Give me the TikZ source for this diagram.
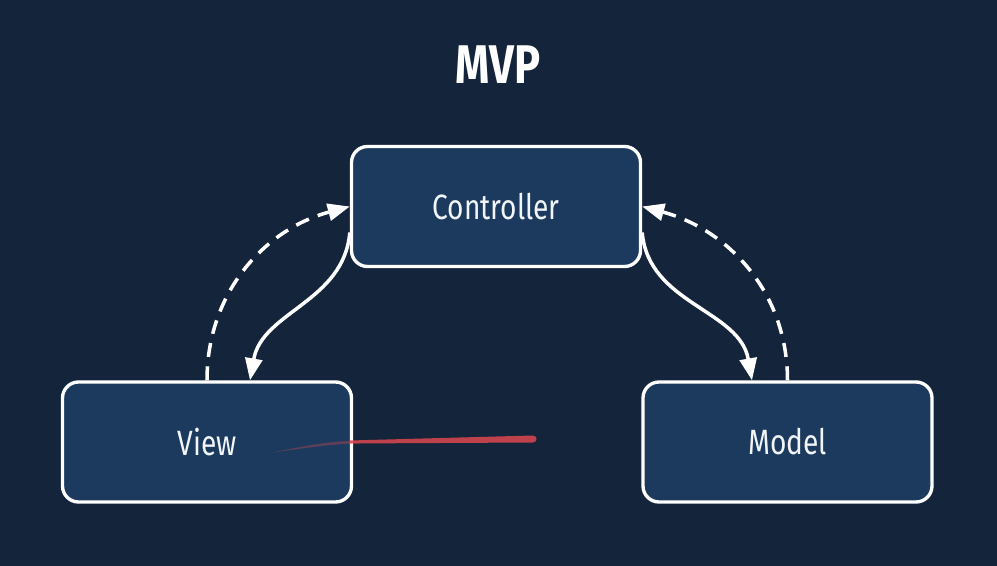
\documentclass[tikz,border=0pt]{standalone}
\usepackage{fontspec}
\newfontfamily\boxfont[FakeStretch=0.8]{Fira Sans}
\usetikzlibrary{arrows.meta}
\definecolor{bgnavy}{HTML}{13243B}
\definecolor{boxnavy}{HTML}{1B3A5E}
\definecolor{txtwhite}{HTML}{F2F5F8}
\definecolor{pointer}{HTML}{DE474E}
\tikzset{
  mvpbox/.style={draw=white, line width=1.9pt, fill=boxnavy, rounded corners=0.32cm,
    minimum width=5.78cm, minimum height=2.4cm, inner sep=0pt,
    text=txtwhite, font=\boxfont\fontsize{20}{24}\selectfont},
  link/.style={draw=white, line width=2pt, -{Triangle[length=0.44cm, width=0.34cm]}},
  dashlink/.style={link, dash pattern=on 0.28cm off 0.19cm}
}
\begin{document}
\begin{tikzpicture}
  \fill[bgnavy] (0,0) rectangle (19.94,-11.32);
  \useasboundingbox (0,0) rectangle (19.94,-11.32);
  \node[text=white, font=\boxfont\bfseries\fontsize{31}{36}\selectfont] (title) at (9.96,-1.3) {MVP};
  \node[mvpbox] (ctrl) at (9.92,-4.13) {Controller};
  \node[mvpbox] (view) at (4.14,-8.84) {View};
  \node[mvpbox] (model) at (15.75,-8.84) {Model};
  % controller <-> view
  \draw[dashlink] (view.north) to[out=90, in=195] (ctrl.west);
  \draw[link] ([yshift=-0.52cm]ctrl.west) to[out=-95, in=80] ([xshift=0.86cm]view.north);
  % controller <-> model
  \draw[link] ([yshift=-0.52cm]ctrl.east) to[out=-85, in=100] ([xshift=-0.71cm]model.north);
  \draw[dashlink] (model.north) to[out=90, in=-15] (ctrl.east);
  % pointer trail
  \fill[pointer, opacity=0.35] (5.44,-9.05) .. controls (6.2,-8.9) and (6.6,-8.82) .. (7.2,-8.81)
    -- (7.2,-8.87) .. controls (6.6,-8.88) and (6.2,-8.95) .. cycle;
  \fill[pointer, opacity=0.85] (7.0,-8.81) -- (10.66,-8.71)
    arc[start angle=90, end angle=-90, radius=0.07] -- (7.0,-8.87) -- cycle;
\end{tikzpicture}
\end{document}
